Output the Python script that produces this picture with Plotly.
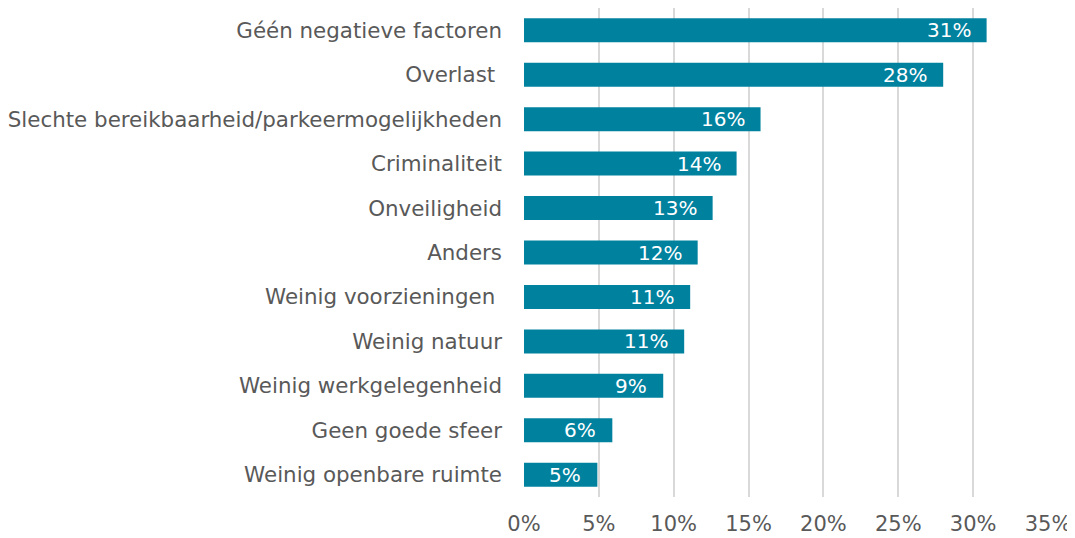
import plotly.graph_objects as go

# data (top to bottom)
categories = ["Géén negatieve factoren", "Overlast\u00a0", "Slechte bereikbaarheid/parkeermogelijkheden",
              "Criminaliteit", "Onveiligheid", "Anders", "Weinig voorzieningen\u00a0", "Weinig natuur",
              "Weinig werkgelegenheid", "Geen goede sfeer", "Weinig openbare ruimte"]
values = [0.309, 0.280, 0.158, 0.142, 0.126, 0.116, 0.111, 0.107, 0.093, 0.059, 0.049]
labels = ["31%", "28%", "16%", "14%", "13%", "12%", "11%", "11%", "9%", "6%", "5%"]
tick_vals = [0, 0.05, 0.10, 0.15, 0.20, 0.25, 0.30, 0.35]

BAR = "#00829f"
GREY = "#595959"
FONT = "DejaVu Sans"

fig = go.Figure()
fig.add_trace(go.Bar(
    x=values[::-1],
    y=categories[::-1],
    orientation="h",
    marker=dict(color=BAR, line=dict(width=0)),
    hoverinfo="skip",
))

# value labels sit inside the bar end, with a wider pad than plotly's own text
for c, v, t in zip(categories, values, labels):
    fig.add_annotation(x=v, y=c, text=t, showarrow=False, xanchor="right", xshift=-14,
                       font=dict(family=FONT, size=20, color="white"))

# page body adds an 8px offset, margins below compensate for it
fig.update_layout(
    width=1067, height=530,
    margin=dict(l=516, r=27, t=0, b=41),
    paper_bgcolor="white", plot_bgcolor="white",
    bargap=0.46,
    showlegend=False,
    font=dict(family=FONT, size=20, color=GREY),
    xaxis=dict(range=[0, 0.35], tickvals=tick_vals, tickformat=".0%", automargin=False,
               showgrid=True, gridcolor="#d9d9d9", gridwidth=2,
               zeroline=False, showline=False, ticks="", ticklabelstandoff=12,
               tickfont=dict(family=FONT, size=21, color=GREY)),
    yaxis=dict(showgrid=False, zeroline=False, showline=False, ticks="", automargin=False,
               ticklabelstandoff=21, tickfont=dict(family=FONT, size=21.4, color=GREY)),
)

fig.write_html("out.html")
